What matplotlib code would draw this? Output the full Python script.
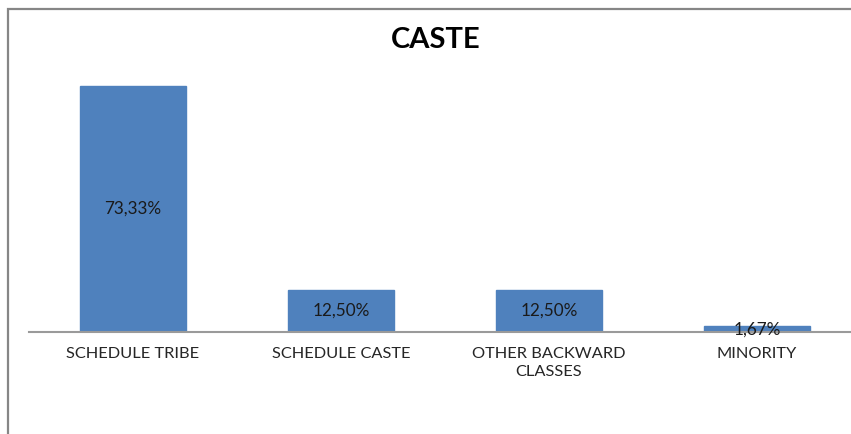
import matplotlib.pyplot as plt
from matplotlib.patches import Rectangle

categories = ["SCHEDULE TRIBE", "SCHEDULE CASTE", "OTHER BACKWARD\nCLASSES", "MINORITY"]
values = [73.33, 12.50, 12.50, 1.67]
value_labels = ["73,33%", "12,50%", "12,50%", "1,67%"]

W, H = 851, 434
plt.rcParams['font.family'] = ['Lato', 'DejaVu Sans']

fig = plt.figure(figsize=(W / 100, H / 100), dpi=100)

# outer chart frame (only the left and top sides are visible)
fig.patches.append(Rectangle((7.5 / W, -0.1), 1.2, 1 - 9.5 / H + 0.1,
                             transform=fig.transFigure, fill=False,
                             edgecolor="#868686", linewidth=1.6))

px_per_unit = 246 / 73.33
ymax = 80
ax_h = ymax * px_per_unit
ax = fig.add_axes([29 / W, 1 - 332 / H, 832 / W, ax_h / H])

x = range(len(categories))
ax.bar(x, values, width=106 / 208, color="#4F81BD", edgecolor="#4F81BD")
ax.set_xlim(-0.5, len(categories) - 0.5)
ax.set_ylim(0, ymax)

for i, (v, lab) in enumerate(zip(values, value_labels)):
    ax.text(i, v / 2, lab, ha="center", va="center", fontsize=12.3, color="#1a1a1a")

ax.set_xticks(list(x))
ax.set_xticklabels(categories, fontsize=11.8, color="#262626", linespacing=1.3)
ax.tick_params(axis="x", length=0, pad=11)
ax.set_yticks([])
for s in ["top", "right", "left"]:
    ax.spines[s].set_visible(False)
ax.spines["bottom"].set_color("#9a9a9a")
ax.spines["bottom"].set_linewidth(1.5)
ax.patch.set_alpha(0)

fig.text(436 / W, 1 - 40 / H, "CASTE", ha="center", va="center",
         fontsize=21, fontweight="bold", color="black")

fig.savefig("out.png", dpi=100)
